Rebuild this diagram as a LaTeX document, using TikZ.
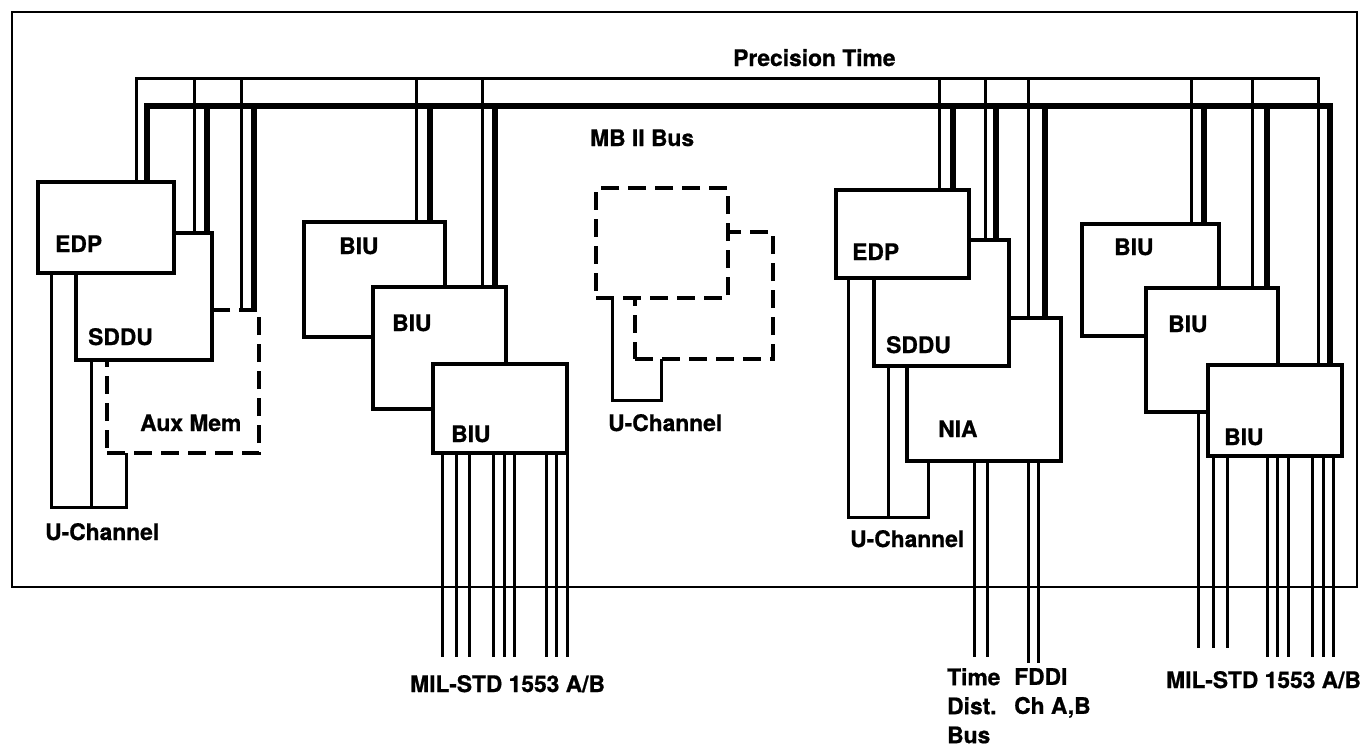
\documentclass[tikz,border=0pt]{standalone}
\usepackage{fontspec}
\setmainfont[FakeBold=0.8]{TeX Gyre Heros}
\usepackage{tikz}

\begin{document}
\begin{tikzpicture}[x=1pt,y=-1pt,
        unit/.style={draw,fill=white,line width=3.2pt,anchor=north west,
          inner sep=0pt,outer sep=0pt},
        ghost/.style={unit,dash pattern=on 18pt off 9pt},
        lbl/.style={anchor=base west,inner sep=0pt},
        txt/.style={anchor=base west,inner sep=0pt},
        pt/.style={line width=3pt},
        mb/.style={line width=5.5pt},
        wire/.style={line width=3pt},
        font=\fontsize{22.8}{29}\selectfont\bfseries]

  \useasboundingbox (0,0) rectangle (1366,750);
  \draw[line width=2.6pt] (12,12) rectangle (1357,587);

  \coordinate (ptbus) at (0,78);
  \coordinate (mbbus) at (0,106);
  \coordinate (uca) at (0,507);
  \coordinate (ucb) at (0,400);
  \coordinate (ucc) at (0,517);
  \coordinate (lo) at (0,657);
  \coordinate (lo2) at (0,648);
  \coordinate (tdbend) at (0,657);
  \coordinate (fdend) at (0,663);

  % left processor group
  \node[ghost,minimum width=152,minimum height=143,
        label={[lbl,xshift=33,yshift=-121]north west:Aux Mem}] (aux1) at (107,310) {};
  \node[unit,minimum width=136,minimum height=127,
        label={[lbl,xshift=12,yshift=-112]north west:SDDU}] (sddu1) at (76,233) {};
  \node[unit,minimum width=136,minimum height=91,
        label={[lbl,xshift=17,yshift=-70]north west:EDP}] (edp1) at (38,182) {};

  \node[unit,minimum width=141,minimum height=115,
        label={[lbl,xshift=35,yshift=-32]north west:BIU}] (biu1) at (304,222) {};
  \node[unit,minimum width=133,minimum height=122,
        label={[lbl,xshift=19,yshift=-44]north west:BIU}] (biu2) at (373,287) {};
  \node[unit,minimum width=134,minimum height=89,
        label={[lbl,xshift=18,yshift=-78]north west:BIU}] (biu3) at (433,364) {};

  % spare slots
  \node[ghost,minimum width=138,minimum height=127] (ghostb) at (635,232) {};
  \node[ghost,minimum width=132,minimum height=110] (ghosta) at (596,188) {};

  % right processor group
  \node[unit,minimum width=154,minimum height=143,
        label={[lbl,xshift=31,yshift=-119]north west:NIA}] (nia) at (907,318) {};
  \node[unit,minimum width=135,minimum height=126,
        label={[lbl,xshift=12,yshift=-113]north west:SDDU}] (sddu2) at (874,240) {};
  \node[unit,minimum width=133,minimum height=88,
        label={[lbl,xshift=16,yshift=-70]north west:EDP}] (edp2) at (836,190) {};

  \node[unit,minimum width=137,minimum height=112,
        label={[lbl,xshift=32,yshift=-31]north west:BIU}] (biu4) at (1082,224) {};
  \node[unit,minimum width=132,minimum height=124,
        label={[lbl,xshift=22,yshift=-44]north west:BIU}] (biu5) at (1146,288) {};
  \node[unit,minimum width=134,minimum height=91,
        label={[lbl,xshift=16,yshift=-80]north west:BIU}] (biu6) at (1208,365) {};

  % precision time and MB II bus
  \draw[pt] (136,0 |- edp1.north) -- (136,0 |- ptbus) -- (1318,0 |- ptbus)
        -- (1318,0 |- biu6.north);
  \foreach \x/\n in {194/sddu1,241/aux1,416/biu1,482/biu2,939/edp2,
                     985/sddu2,1028/nia,1191/biu4,1252/biu5}
    \draw[pt] (\x,0 |- ptbus) -- (\x,0 |- \n.north);
  \draw[mb] (147,0 |- edp1.north) -- (147,0 |- mbbus) -- (1330,0 |- mbbus)
        -- (1330,0 |- biu6.north);
  \foreach \x/\n in {207/sddu1,254/aux1,430/biu1,495/biu2,953/edp2,
                     996/sddu2,1045/nia,1204/biu4,1267/biu5}
    \draw[mb] (\x,0 |- mbbus) -- (\x,0 |- \n.north);

  % u-channels
  \draw[wire] (51,0 |- edp1.south) -- (51,0 |- uca) -- (126,0 |- uca)
        -- (126,0 |- aux1.south);
  \draw[wire] (91,0 |- sddu1.south) -- (91,0 |- uca);
  \draw[wire] (ghosta.south west) -- (612,0 |- ghosta.south) -- (612,0 |- ucb)
        -- (661,0 |- ucb) -- (661,0 |- ghostb.south);
  \draw[wire] (848,0 |- edp2.south) -- (848,0 |- ucc) -- (928,0 |- ucc)
        -- (928,0 |- nia.south);
  \draw[wire] (888,0 |- sddu2.south) -- (888,0 |- ucc);

  % external buses
  \foreach \x in {442,456,469,493,504,514,546,556,567}
    \draw[wire] (\x,0 |- biu3.south) -- (\x,0 |- lo);
  \draw[wire] (1198,0 |- biu5.south) -- (1198,0 |- lo2);
  \foreach \x/\e in {1213/lo2,1227/lo2,1267/lo,1277/lo,1288/lo,1312/lo,1323/lo,1333/lo}
    \draw[wire] (\x,0 |- biu6.south) -- (\x,0 |- \e);
  \foreach \x/\e in {974/tdbend,987/tdbend,1028/fdend,1038/fdend}
    \draw[wire] (\x,0 |- nia.south) -- (\x,0 |- \e);

  \node[txt] (ptlbl) at (733,66) {Precision Time};
  \node[txt] (mblbl) at (590,146) {MB II Bus};
  \node[txt] (ucl1) at (45,540) {U-Channel};
  \node[txt] (ucl2) at (608,431) {U-Channel};
  \node[txt] (ucl3) at (850,547) {U-Channel};
  \node[txt] (mil1) at (410,692) {MIL-STD 1553 A/B};
  \node[txt] (mil2) at (1166,688) {MIL-STD 1553 A/B};
  \node[txt,anchor=north west,align=left] (tdb) at (947,668) {Time\\Dist.\\Bus};
  \node[txt,anchor=north west,align=left] (fddi) at (1014,668) {FDDI\\Ch A,B};

\end{tikzpicture}
\end{document}
